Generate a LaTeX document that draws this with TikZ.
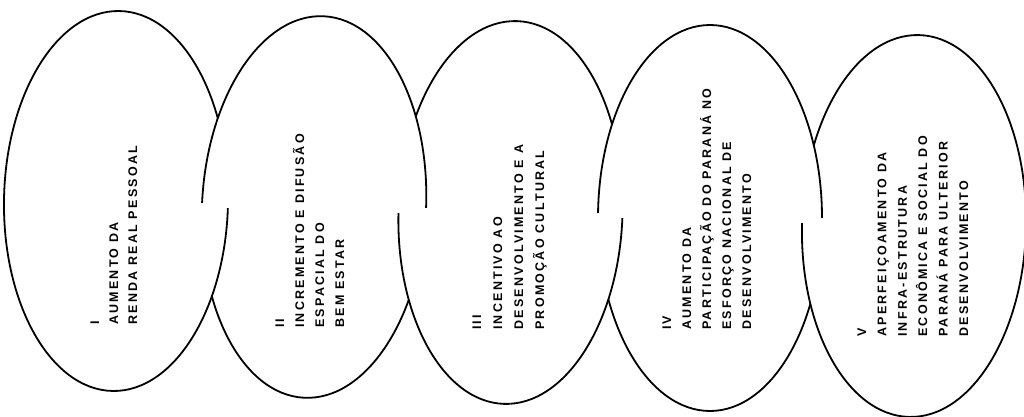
\documentclass[tikz,border=0pt]{standalone}
\usepackage{fontspec}
\newfontfamily\lblfont[LetterSpace=18]{Liberation Sans Bold}
\tikzset{
  ellline/.style={draw=black, line width=1.8pt},
  lbl/.style={rotate=90, anchor=base west, inner sep=0pt, text=black,
    font=\lblfont\fontsize{12.5}{20}\selectfont}
}
% drawing helpers: #1 cx, #2 cy, #3 x radius, #4 y radius, #5 tilt
\newcommand\drawell[5]{\draw[ellline, rotate around={#5:(#1,#2)}] (#1,#2) ellipse [x radius=#3, y radius=#4];}
\newcommand\clipout[5]{%
  \pgfmathsetmacro\myangB{#5+90}%
  \pgfpathrectanglecorners{\pgfpoint{-800pt}{-800pt}}{\pgfpoint{1800pt}{1200pt}}%
  \pgfpathellipse{\pgfpoint{#1pt}{#2pt}}{\pgfpointpolar{#5}{#3pt}}{\pgfpointpolar{\myangB}{#4pt}}%
  \pgfseteorule\pgfusepath{clip}}
\newcommand\ElA[1]{#1{116}{215}{112}{190}{-1}}
\newcommand\ElB[1]{#1{314}{209}{112}{191}{-3}}
\newcommand\ElC[1]{#1{510.5}{203.5}{112}{191.5}{-2}}
\newcommand\ElD[1]{#1{710}{198}{112}{193}{0}}
\newcommand\ElE[1]{#1{914}{190}{112}{191}{-1.5}}
\newcommand\textblock[5]{%
  \foreach \t [count=\k from 0] in {#4} {\node[lbl] (#1-\k) at ({#2+\k*#5},#3) {\t};}}
\begin{document}
\begin{tikzpicture}[x=1pt,y=1pt]
\fill[white] (0,0) rectangle (1024,416);
\useasboundingbox (0,0) rectangle (1024,416);
% ---- ellipse I
\begin{scope}\clip (-10,-10) rectangle (116,430); \ElA\drawell \end{scope}
\begin{scope}\clip (116,-10) rectangle (260,208); \ElA\drawell \end{scope}
\begin{scope}\clip (116,208) rectangle (260,430); \ElB\clipout \ElA\drawell \end{scope}
% ---- ellipse II
\begin{scope}\clip (170,214) rectangle (314,430); \ElB\drawell \end{scope}
\begin{scope}\clip (170,-10) rectangle (314,214); \ElA\clipout \ElB\drawell \end{scope}
\begin{scope}\clip (314,209) rectangle (460,430); \ElB\drawell \end{scope}
\begin{scope}\clip (314,-10) rectangle (460,209); \ElC\clipout \ElB\drawell \end{scope}
% ---- ellipse III
\begin{scope}\clip (370,-10) rectangle (510.5,203); \ElC\drawell \end{scope}
\begin{scope}\clip (370,203) rectangle (510.5,430); \ElB\clipout \ElC\drawell \end{scope}
\begin{scope}\clip (510.5,-10) rectangle (660,197.5); \ElC\drawell \end{scope}
\begin{scope}\clip (510.5,197.5) rectangle (660,430); \ElD\clipout \ElC\drawell \end{scope}
% ---- ellipse IV
\begin{scope}\clip (570,203.5) rectangle (710,430); \ElD\drawell \end{scope}
\begin{scope}\clip (570,-10) rectangle (710,203.5); \ElC\clipout \ElD\drawell \end{scope}
\begin{scope}\clip (710,199) rectangle (860,430); \ElD\drawell \end{scope}
\begin{scope}\clip (710,-10) rectangle (860,199); \ElE\clipout \ElD\drawell \end{scope}
% ---- ellipse V
\begin{scope}\clip (770,-10) rectangle (914,193); \ElE\drawell \end{scope}
\begin{scope}\clip (770,193) rectangle (914,430); \ElD\clipout \ElE\drawell \end{scope}
\begin{scope}\clip (914,-10) rectangle (1060,430); \ElE\drawell \end{scope}
% ---- texts
\textblock{e1}{99}{91}{I, AUMENTO DA, RENDA REAL PESSOAL}{19}
\textblock{e2}{284}{88}{II, INCREMENTO E DIFUSÃO, ESPACIAL DO, BEM ESTAR}{20}
\textblock{e3}{481}{86}{III, INCENTIVO AO, DESENVOLVIMENTO E A, PROMOÇÃO CULTURAL}{21}
\textblock{e4}{671}{86}{IV, AUMENTO DA, PARTICIPAÇÃO DO PARANÁ NO, ESFORÇO NACIONAL DE, DESENVOLVIMENTO}{20}
\textblock{e5}{866}{79}{V, APERFEIÇOAMENTO DA, INFRA-ESTRUTURA, ECONÔMICA E SOCIAL DO, PARANÁ PARA ULTERIOR, DESENVOLVIMENTO}{20.4}
\end{tikzpicture}
\end{document}
